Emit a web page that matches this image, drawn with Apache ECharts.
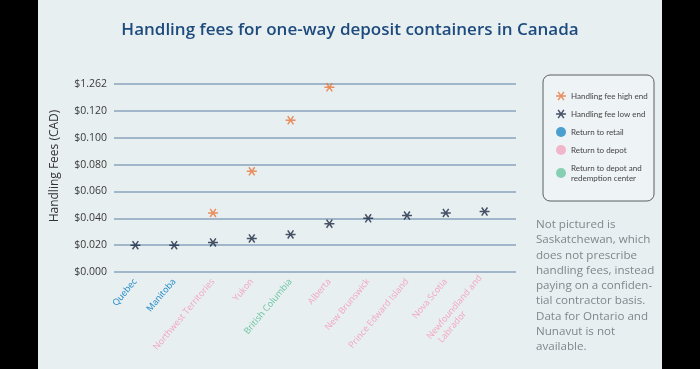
<!DOCTYPE html>
<html>
<head>
<meta charset="utf-8">
<script src="https://cdn.jsdelivr.net/npm/echarts@6/dist/echarts.min.js"></script>
<style>
html,body{margin:0;padding:0;background:#000;}
#c{width:700px;height:369px;}
</style>
</head>
<body>
<div id="c"></div>
<script>
// ---- data ----
var categories = ['Quebec','Manitoba','Northwest Territories','Yukon','British Columbia','Alberta','New Brunswick','Prince Edward Island','Nova Scotia','Newfoundland and\nLabrador                '];
var systemType = ['retail','retail','depot','depot','redemption','depot','depot','depot','depot','depot'];
var lowEnd  = [0.020,0.020,0.022,0.025,0.028,0.036,0.040,0.042,0.044,0.045];
// top gridline is a broken-axis step labelled $1.262 (axis units 0.14)
var highEnd = [null,null,0.044,0.075,0.113,0.1375,null,null,null,null];
var yTicks = [0,0.02,0.04,0.06,0.08,0.10,0.12,0.14];
var yTickLabels = ['$0.000','$0.020','$0.040','$0.060','$0.080','$0.100','$0.120','$1.262'];
var legendNames = ['Handling fee high end','Handling fee low end','Return to retail','Return to depot','Return to depot and\nredemption center'];
var noteLines = ['Not pictured is','Saskatchewan, which','does not prescribe','handling fees, instead','paying on a confiden-','tial contractor basis.','Data for Ontario and','Nunavut is not','available.'];

var typeColor = {retail:'#2189c6', depot:'#f2a6bf', redemption:'#6dc5a2'};
var FONT = '"Open Sans", Lato, sans-serif';
var star = 'path://M0,8.5L0,11.5L20,11.5L20,8.5Z M3.03,2.67L14.51,19.05L16.97,17.33L5.49,0.95Z M16.97,2.67L14.51,0.95L3.03,17.33L5.49,19.05Z';

var chart = echarts.init(document.getElementById('c'), null, {renderer:'canvas'});
var option = {
  backgroundColor:'#000',
  animation:false,
  title:{
    text:'Handling fees for one-way deposit containers in Canada',
    left:'center', top:17,
    textStyle:{fontFamily:FONT, fontSize:17, fontWeight:600, color:'#1d4b7d'}
  },
  graphic:[
    {type:'rect', z:-10, shape:{x:38,y:0,width:624,height:369}, style:{fill:'#e8eff1'}},
    {type:'rect', z:-5, shape:{x:543,y:75,width:111,height:126,r:7}, style:{fill:'#eef3f5',stroke:'#5a5e63',lineWidth:1}},
    {type:'text', x:55, y:166, rotation:Math.PI/2, style:{text:'Handling Fees (CAD)', font:'12px "Open Sans"', fill:'#333', align:'center', verticalAlign:'middle'}},
    {type:'text', x:536, y:217, style:{text:noteLines.join('\n'), font:'11.6px "Open Sans"', lineHeight:15.3, fill:'#80868b', align:'left', verticalAlign:'top'}}
  ],
  legend:{
    orient:'vertical', left:551, top:86,
    itemWidth:10, itemHeight:10, itemGap:8,
    data:legendNames,
    textStyle:{fontFamily:'Lato, "Open Sans", sans-serif', fontSize:8, color:'#444', lineHeight:10}
  },
  grid:[
    {left:114, right:184, top:84, bottom:97},
    {left:116, width:388, top:84, bottom:97}
  ],
  xAxis:[
    {type:'category', gridIndex:0, data:[''], show:false},
    {type:'category', gridIndex:1, data:categories,
      axisLine:{show:false}, axisTick:{show:false},
      axisLabel:{rotate:50, interval:0, margin:8, fontFamily:FONT, fontSize:9, lineHeight:11,
        color:function(v, i){ return typeColor[systemType[i]]; }}}
  ],
  yAxis:[
    {type:'value', gridIndex:0, min:0, max:0.14, interval:0.02,
      axisLine:{show:false}, axisTick:{show:false},
      splitLine:{lineStyle:{color:'#8aa3ba', width:1.6}},
      axisLabel:{margin:7, fontFamily:FONT, fontSize:10.5, color:'#3a3a3a',
        formatter:function(v){ var i = yTicks.findIndex(function(t){return Math.abs(t-v)<1e-9;}); return i>=0 ? yTickLabels[i] : ''; }}},
    {type:'value', gridIndex:1, min:0, max:0.14, interval:0.02, show:false, splitLine:{show:false}}
  ],
  series:[
    {name:legendNames[0], type:'scatter', xAxisIndex:1, yAxisIndex:1, data:highEnd, symbol:star, symbolSize:[10,9], itemStyle:{color:'#e8763a'}, z:5},
    {name:legendNames[1], type:'scatter', xAxisIndex:1, yAxisIndex:1, data:lowEnd, symbol:star, symbolSize:[10,9], itemStyle:{color:'#1b2a44'}, z:5},
    {name:legendNames[2], type:'scatter', xAxisIndex:1, yAxisIndex:1, data:[], symbol:'circle', itemStyle:{color:typeColor.retail}},
    {name:legendNames[3], type:'scatter', xAxisIndex:1, yAxisIndex:1, data:[], symbol:'circle', itemStyle:{color:typeColor.depot}},
    {name:legendNames[4], type:'scatter', xAxisIndex:1, yAxisIndex:1, data:[], symbol:'circle', itemStyle:{color:typeColor.redemption}}
  ]
};
chart.setOption(option);
</script>
</body>
</html>
